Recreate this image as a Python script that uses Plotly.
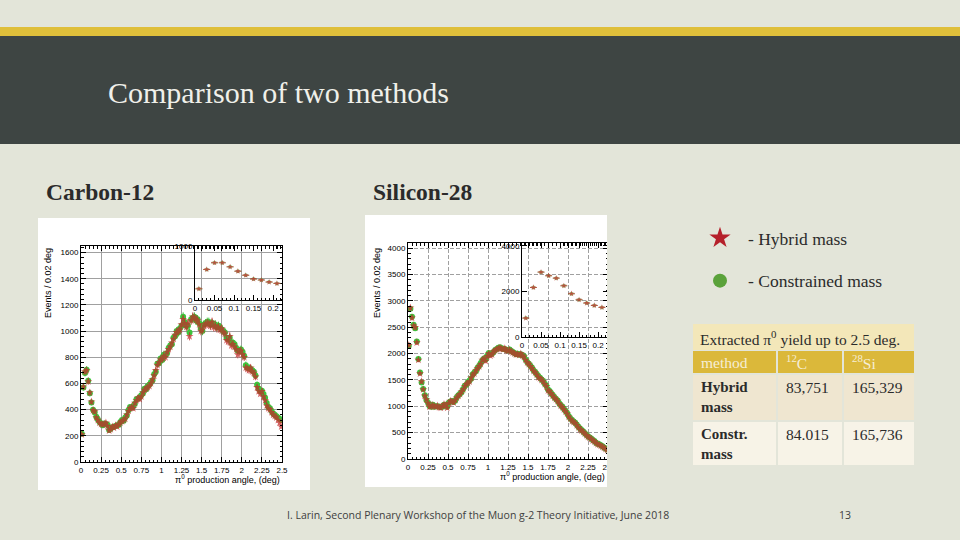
import plotly.graph_objects as go

W, H = 960, 540


def px(x):
    return x / W


def py(y):
    return 1 - y / H


# ---------------- data ----------------
angle_bins = [round(0.01 + 0.02 * i, 2) for i in range(125)]  # bin centres (deg)

carbon_hybrid = [
    210, 575, 690, 700, 615, 530, 460, 395, 385, 340,
    320, 300, 290, 285, 290, 300, 275, 240, 250, 270,
    260, 280, 270, 290, 300, 310, 320, 330, 360, 390,
    410, 420, 410, 450, 470, 490, 480, 500, 530, 550,
    560, 570, 580, 600, 630, 660, 700, 740, 760, 780,
    790, 810, 800, 840, 860, 880, 910, 940, 970, 990,
    1000, 1010, 1050, 1090, 1060, 1030, 1060, 960, 1080, 1110,
    1100, 1090, 1080, 1050, 1000, 1010, 1040, 1050, 1060, 1050,
    1040, 1070, 1030, 1040, 1020, 1030, 1010, 1020, 990, 980,
    930, 920, 960, 890, 900, 880, 860, 820, 840, 850,
    820, 800, 720, 710, 700, 720, 690, 680, 650, 570,
    540, 520, 540, 500, 470, 430, 410, 400, 380, 360,
    350, 340, 320, 300, 270,
]
carbon_constr = [
    215, 570, 680, 705, 620, 525, 455, 400, 380, 345,
    325, 305, 295, 280, 295, 290, 285, 245, 255, 265,
    270, 275, 280, 285, 305, 320, 315, 340, 355, 395,
    420, 415, 425, 445, 480, 485, 495, 510, 525, 560,
    555, 580, 590, 610, 625, 670, 690, 750, 755, 790,
    780, 820, 815, 830, 870, 890, 900, 950, 960, 1000,
    990, 1020, 1040, 1110, 1070, 1040, 1040, 990, 1090, 1100,
    1110, 1080, 1090, 1060, 1020, 1000, 1050, 1060, 1070, 1070,
    1050, 1060, 1050, 1050, 1030, 1040, 1030, 1010, 1000, 990,
    950, 940, 950, 910, 910, 900, 870, 850, 850, 860,
    840, 810, 740, 720, 720, 710, 700, 690, 660, 590,
    560, 540, 545, 520, 490, 450, 420, 410, 390, 370,
    360, 350, 340, 330, 320,
]
silicon_hybrid = [
    2160, 2870, 2680, 2530, 2500, 2210, 1880, 1620, 1470, 1320,
    1200, 1130, 1060, 990, 1000, 1020, 1000, 990, 1010, 980,
    970, 1000, 1040, 1010, 970, 1060, 1100, 1090, 1070, 1120,
    1160, 1200, 1230, 1280, 1320, 1380, 1420, 1440, 1470, 1540,
    1600, 1620, 1680, 1720, 1760, 1800, 1880, 1900, 1860, 1950,
    2000, 1960, 1980, 2040, 2060, 2080, 2100, 2110, 2090, 2080,
    2100, 2060, 2050, 2070, 2040, 2020, 2000, 1980, 1990, 1970,
    2000, 1960, 1940, 1880, 1830, 1800, 1760, 1720, 1670, 1640,
    1600, 1550, 1530, 1500, 1470, 1420, 1380, 1300, 1280, 1240,
    1200, 1160, 1130, 1100, 1050, 1010, 980, 940, 900, 860,
    800, 760, 720, 700, 680, 640, 600, 560, 540, 510,
    480, 450, 420, 400, 380, 350, 330, 300, 280, 270,
    250, 230, 210, 190, 170,
]
silicon_constr = [
    2150, 2850, 2700, 2550, 2480, 2230, 1900, 1640, 1450, 1330,
    1210, 1120, 1070, 1000, 990, 1030, 990, 1000, 1000, 990,
    980, 990, 1030, 1020, 990, 1070, 1090, 1100, 1080, 1110,
    1170, 1210, 1240, 1270, 1330, 1390, 1410, 1460, 1490, 1530,
    1610, 1640, 1670, 1730, 1770, 1820, 1870, 1910, 1890, 1960,
    2010, 1990, 2000, 2030, 2070, 2090, 2110, 2120, 2100, 2090,
    2090, 2070, 2060, 2080, 2050, 2030, 2010, 1990, 2000, 1980,
    1990, 1970, 1950, 1890, 1840, 1810, 1770, 1730, 1680, 1650,
    1610, 1570, 1540, 1510, 1480, 1430, 1390, 1320, 1290, 1250,
    1210, 1170, 1140, 1110, 1060, 1020, 990, 950, 910, 870,
    810, 770, 740, 710, 690, 650, 610, 580, 550, 520,
    490, 460, 430, 410, 390, 360, 340, 310, 290, 280,
    260, 240, 220, 200, 180,
]

inset_bins = [0.01, 0.03, 0.05, 0.07, 0.09, 0.11, 0.13, 0.15, 0.17, 0.19, 0.21]
carbon_inset = [209, 570, 696, 696, 620, 538, 462, 392, 373, 335, 310]
silicon_inset = [830, 2175, 2850, 2690, 2585, 2250, 1900, 1635, 1490, 1385, 1300]

x_tickvals = [0, 0.25, 0.5, 0.75, 1, 1.25, 1.5, 1.75, 2, 2.25, 2.5]
x_ticktext = ["0", "0.25", "0.5", "0.75", "1", "1.25", "1.5", "1.75", "2", "2.25", "2.5"]
carbon_yticks = [0, 200, 400, 600, 800, 1000, 1200, 1400, 1600]
silicon_yticks = [0, 500, 1000, 1500, 2000, 2500, 3000, 3500, 4000]
inset_xticks = [0, 0.05, 0.1, 0.15, 0.2]
inset_xtext = ["0", "0.05", "0.1", "0.15", "0.2"]
carbon_inset_yticks = [0, 1000]
silicon_inset_yticks = [0, 2000, 4000]

table_cols = ["method", "<sup>12</sup>C", "<sup>28</sup>Si"]
table_rows = [["Hybrid<br>mass", "83,751", "165,329"],
              ["Constr.<br>mass", "84.015", "165,736"]]

# ---------------- styles ----------------
SLIDE_BG = "#e3e5d9"
RED = "#c42a2a"
GREEN = "#3cc43c"
TICKFONT = dict(family="Liberation Sans", size=8, color="black")
SERIF = "Liberation Serif"


def axis(domain, rng, tickvals, ticktext, minor_dtick, grid, griddash, anchor):
    d = dict(
        domain=domain, range=rng, anchor=anchor, automargin=False,
        tickmode="array", tickvals=tickvals, ticktext=ticktext,
        ticks="inside", ticklen=5, tickcolor="black",
        showline=True, linecolor="black", linewidth=1, mirror="allticks",
        showgrid=grid, gridcolor="#a0a0a0", gridwidth=1, griddash=griddash,
        zeroline=False, tickfont=TICKFONT, fixedrange=True,
    )
    if minor_dtick:
        d["minor"] = dict(tickmode="linear", tick0=0, dtick=minor_dtick,
                          ticks="inside", ticklen=2.5, tickcolor="black",
                          showgrid=False)
    return d


fig = go.Figure()


def add_pair(xs, hyb, con, xa, ya, inset=False):
    common_err = dict(type="sqrt", thickness=1, width=0)
    ex = dict(type="constant", value=0.009, thickness=1, width=0) if inset else None
    # constrained mass (green circles) drawn first, hybrid (red stars) on top
    fig.add_trace(go.Scatter(
        x=xs, y=con, xaxis=xa, yaxis=ya, mode="markers", showlegend=False,
        opacity=0.6 if inset else 1,
        marker=dict(symbol="circle", size=6 if not inset else 4, color=GREEN, line=dict(width=0)),
        error_y=dict(common_err, color=GREEN), error_x=dict(ex, color=GREEN) if ex else None,
        hoverinfo="skip"))
    fig.add_trace(go.Scatter(
        x=xs, y=hyb, xaxis=xa, yaxis=ya, mode="markers", showlegend=False,
        opacity=0.75,
        marker=dict(symbol="star", size=6 if not inset else 4.5, color=RED, line=dict(width=0)),
        error_y=dict(common_err, color=RED), error_x=dict(ex, color=RED) if ex else None,
        hoverinfo="skip"))


add_pair(angle_bins, carbon_hybrid, carbon_constr, "x", "y")
add_pair(inset_bins, carbon_inset, carbon_inset, "x2", "y2", inset=True)
add_pair(angle_bins, silicon_hybrid, silicon_constr, "x3", "y3")
add_pair(inset_bins, silicon_inset, silicon_inset, "x4", "y4", inset=True)

# legend entries
fig.add_trace(go.Scatter(x=[None], y=[None], mode="markers", name="- Hybrid mass",
                         legendgroup="h", marker=dict(symbol="star", size=16, color="#b5202a")))
fig.add_trace(go.Scatter(x=[None], y=[None], mode="markers", name="- Constrained mass",
                         legendgroup="c", marker=dict(symbol="circle", size=14, color="#5aa23a")))

layout = dict(
    width=W, height=H, autosize=False,
    margin=dict(l=0, r=0, t=0, b=0, autoexpand=False),
    paper_bgcolor=SLIDE_BG, plot_bgcolor="rgba(0,0,0,0)",
    showlegend=True,
    legend=dict(x=px(692), y=py(220), xanchor="left", yanchor="top", itemwidth=46,
                bgcolor="rgba(0,0,0,0)", tracegroupgap=17,
                font=dict(family=SERIF, size=17.5, color="#2b2b2b")),
    xaxis=axis([px(81), px(282)], [0, 2.5], x_tickvals, x_ticktext, 0.05, True, "solid", "y"),
    yaxis=axis([py(462), py(246)], [0, 1650], carbon_yticks, [str(v) for v in carbon_yticks], 40, True, "solid", "x"),
    xaxis2=axis([px(195), px(282)], [0, 0.223], inset_xticks, inset_xtext, 0.01, False, "solid", "y2"),
    yaxis2=axis([py(300), py(246)], [0, 1010], carbon_inset_yticks, [str(v) for v in carbon_inset_yticks], None, False, "solid", "x2"),
    xaxis3=axis([px(408), px(608)], [0, 2.5], x_tickvals, x_ticktext, 0.05, True, "4px,2px", "y3"),
    yaxis3=axis([py(459), py(243)], [0, 4100], silicon_yticks, [str(v) for v in silicon_yticks], 100, True, "4px,2px", "x3"),
    xaxis4=axis([px(522), px(608)], [0, 0.226], inset_xticks, inset_xtext, 0.01, False, "solid", "y4"),
    yaxis4=axis([py(337), py(243)], [0, 4130], silicon_inset_yticks, [str(v) for v in silicon_inset_yticks], None, False, "solid", "x4"),
)
fig.update_layout(**layout)


def rect(x0, y0, x1, y1, color, layer="below"):
    return dict(type="rect", xref="paper", yref="paper", x0=px(x0), x1=px(x1),
                y0=py(y1), y1=py(y0), fillcolor=color, line=dict(width=0), layer=layer)


shapes = [
    rect(0, 27, 960, 36, "#dfbf3a"),
    rect(0, 36, 960, 144, "#3e4543"),
    rect(38, 218, 310, 490, "white"),
    rect(365, 215, 607, 487, "white"),
    # table
    rect(693, 324, 914, 350, "#f3e7b9"),
    rect(693, 351, 776, 373, "#dbb83a"),
    rect(778, 351, 842, 373, "#dbb83a"),
    rect(844, 351, 914, 373, "#dbb83a"),
    rect(693, 375, 776, 420, "#efe6d0"),
    rect(778, 375, 842, 420, "#efe6d0"),
    rect(844, 375, 914, 420, "#efe6d0"),
    rect(693, 422, 776, 465, "#f7f3e7"),
    rect(778, 422, 842, 465, "#f7f3e7"),
    rect(844, 422, 914, 465, "#f7f3e7"),
    # crop of the right picture
    rect(607, 205, 640, 500, SLIDE_BG, layer="above"),
]
fig.update_layout(shapes=shapes)

ann = []


def text(x, y, s, size, color="#2b2b2b", family=SERIF, xanchor="left", yanchor="middle", angle=0):
    ann.append(dict(x=px(x), y=py(y), xref="paper", yref="paper", text=s, showarrow=False,
                    xanchor=xanchor, yanchor=yanchor, textangle=angle, align="left",
                    font=dict(family=family, size=size, color=color)))


text(106, 92, "Comparison of two methods", 30, color="#f0f0ea")
text(44, 192, "<b>Carbon-12</b>", 23.5)
text(371, 192, "<b>Silicon-28</b>", 23.5)

# axis titles
text(48, 246, "Events / 0.02 deg", 9, color="black", family="Liberation Sans",
     xanchor="center", yanchor="top", angle=-90)
text(282, 479, "π<sup>0</sup> production angle, (deg)", 9, color="black",
     family="Liberation Sans", xanchor="right")
text(377, 246, "Events / 0.02 deg", 9, color="black", family="Liberation Sans",
     xanchor="center", yanchor="top", angle=-90)
text(607, 476, "π<sup>0</sup> production angle, (deg)", 9, color="black",
     family="Liberation Sans", xanchor="right")

# table text
text(698, 338, "Extracted π<sup>0</sup> yield up to 2.5 deg.", 15.5)
col_x = [699, 784, 850]
for cx, c in zip(col_x, table_cols):
    text(cx, 362, c, 15.5, color="#f6eed6")
row_y = [377, 424]
for ry, row in zip(row_y, table_rows):
    text(col_x[0], ry, "<b>" + row[0] + "</b>", 15, yanchor="top")
    text(col_x[1], ry, row[1], 15.5, yanchor="top")
    text(col_x[2], ry, row[2], 15.5, yanchor="top")

text(478, 515, "I. Larin, Second Plenary Workshop of the Muon g-2 Theory Initiative, June 2018",
     10.5, color="#404040", family="Open Sans", xanchor="center")
text(845, 515, "13", 10.5, color="#404040", family="Open Sans", xanchor="center")

fig.update_layout(annotations=ann)
fig.write_html("out.html", config={"displayModeBar": False},
               post_script="document.body.style.margin='0';document.body.style.overflow='hidden';")
